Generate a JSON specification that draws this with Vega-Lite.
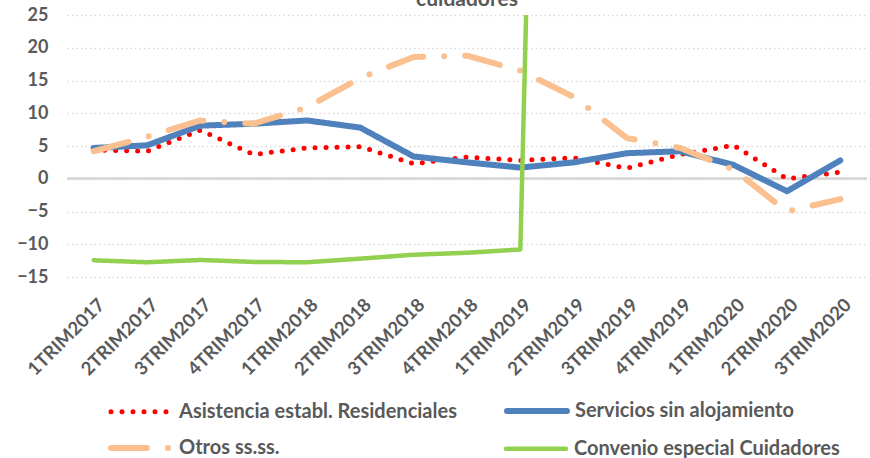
{
  "$schema": "https://vega.github.io/schema/vega-lite/v6.json",
  "autosize": "none",
  "width": 800,
  "height": 262,
  "padding": {"left": 67, "top": 15, "right": 3, "bottom": 181},
  "background": "white",
  "title": {"text": "cuidadores", "font": "Lato", "fontSize": 21, "fontWeight": "bold", "color": "#595959", "anchor": "middle", "offset": -4},
  "config": {
    "view": {"stroke": null},
    "axisX": {"title": null, "domain": false, "ticks": false, "grid": false, "labelAngle": -45, "labelAlign": "right", "labelBaseline": "top", "labelPadding": 18, "labelOffset": 1, "labelOverlap": false, "labelFont": "Lato", "labelFontSize": 18.5, "labelFontWeight": "bold", "labelColor": "#595959"},
    "axisY": {"title": null, "domain": false, "ticks": false, "labelOverlap": false, "grid": true, "gridDash": [1.5, 3], "gridColor": "#d9d9d9", "gridWidth": 1.5, "labelPadding": 19, "labelFont": "Lato", "labelFontSize": 18, "labelFontWeight": "bold", "labelColor": "#595959"},
    "legend": {"orient": "none", "direction": "horizontal", "columns": 2, "title": null, "symbolType": "stroke", "symbolSize": 3600, "labelFont": "Lato", "labelFontSize": 20, "labelFontWeight": "bold", "labelColor": "#595959", "labelOffset": 5, "padding": 0, "labelLimit": 400}
  },
  "data": {"values": [
    {"quarter": "1TRIM2017", "series": "Asistencia establ. Residenciales", "value": 4.4},
    {"quarter": "2TRIM2017", "series": "Asistencia establ. Residenciales", "value": 4.2},
    {"quarter": "3TRIM2017", "series": "Asistencia establ. Residenciales", "value": 7.4},
    {"quarter": "4TRIM2017", "series": "Asistencia establ. Residenciales", "value": 3.7},
    {"quarter": "1TRIM2018", "series": "Asistencia establ. Residenciales", "value": 4.7},
    {"quarter": "2TRIM2018", "series": "Asistencia establ. Residenciales", "value": 4.9},
    {"quarter": "3TRIM2018", "series": "Asistencia establ. Residenciales", "value": 2.3},
    {"quarter": "4TRIM2018", "series": "Asistencia establ. Residenciales", "value": 3.3},
    {"quarter": "1TRIM2019", "series": "Asistencia establ. Residenciales", "value": 2.8},
    {"quarter": "2TRIM2019", "series": "Asistencia establ. Residenciales", "value": 3.2},
    {"quarter": "3TRIM2019", "series": "Asistencia establ. Residenciales", "value": 1.6},
    {"quarter": "4TRIM2019", "series": "Asistencia establ. Residenciales", "value": 3.7},
    {"quarter": "1TRIM2020", "series": "Asistencia establ. Residenciales", "value": 5.1},
    {"quarter": "2TRIM2020", "series": "Asistencia establ. Residenciales", "value": 0.0},
    {"quarter": "3TRIM2020", "series": "Asistencia establ. Residenciales", "value": 1.0},
    {"quarter": "1TRIM2017", "series": "Servicios sin alojamiento", "value": 4.7},
    {"quarter": "2TRIM2017", "series": "Servicios sin alojamiento", "value": 5.1},
    {"quarter": "3TRIM2017", "series": "Servicios sin alojamiento", "value": 8.1},
    {"quarter": "4TRIM2017", "series": "Servicios sin alojamiento", "value": 8.4},
    {"quarter": "1TRIM2018", "series": "Servicios sin alojamiento", "value": 8.9},
    {"quarter": "2TRIM2018", "series": "Servicios sin alojamiento", "value": 7.8},
    {"quarter": "3TRIM2018", "series": "Servicios sin alojamiento", "value": 3.4},
    {"quarter": "4TRIM2018", "series": "Servicios sin alojamiento", "value": 2.5},
    {"quarter": "1TRIM2019", "series": "Servicios sin alojamiento", "value": 1.7},
    {"quarter": "2TRIM2019", "series": "Servicios sin alojamiento", "value": 2.5},
    {"quarter": "3TRIM2019", "series": "Servicios sin alojamiento", "value": 3.9},
    {"quarter": "4TRIM2019", "series": "Servicios sin alojamiento", "value": 4.2},
    {"quarter": "1TRIM2020", "series": "Servicios sin alojamiento", "value": 2.1},
    {"quarter": "2TRIM2020", "series": "Servicios sin alojamiento", "value": -1.9},
    {"quarter": "3TRIM2020", "series": "Servicios sin alojamiento", "value": 2.8},
    {"quarter": "1TRIM2017", "series": "Otros ss.ss.", "value": 4.2},
    {"quarter": "2TRIM2017", "series": "Otros ss.ss.", "value": 6.4},
    {"quarter": "3TRIM2017", "series": "Otros ss.ss.", "value": 8.9},
    {"quarter": "4TRIM2017", "series": "Otros ss.ss.", "value": 8.4},
    {"quarter": "1TRIM2018", "series": "Otros ss.ss.", "value": 10.9},
    {"quarter": "2TRIM2018", "series": "Otros ss.ss.", "value": 15.4},
    {"quarter": "3TRIM2018", "series": "Otros ss.ss.", "value": 18.6},
    {"quarter": "4TRIM2018", "series": "Otros ss.ss.", "value": 18.8},
    {"quarter": "1TRIM2019", "series": "Otros ss.ss.", "value": 16.5},
    {"quarter": "2TRIM2019", "series": "Otros ss.ss.", "value": 12.5},
    {"quarter": "3TRIM2019", "series": "Otros ss.ss.", "value": 6.2},
    {"quarter": "4TRIM2019", "series": "Otros ss.ss.", "value": 4.7},
    {"quarter": "1TRIM2020", "series": "Otros ss.ss.", "value": 1.4},
    {"quarter": "2TRIM2020", "series": "Otros ss.ss.", "value": -5.0},
    {"quarter": "3TRIM2020", "series": "Otros ss.ss.", "value": -3.1},
    {"quarter": "1TRIM2017", "series": "Convenio especial Cuidadores", "value": -12.45},
    {"quarter": "2TRIM2017", "series": "Convenio especial Cuidadores", "value": -12.75},
    {"quarter": "3TRIM2017", "series": "Convenio especial Cuidadores", "value": -12.4},
    {"quarter": "4TRIM2017", "series": "Convenio especial Cuidadores", "value": -12.7},
    {"quarter": "1TRIM2018", "series": "Convenio especial Cuidadores", "value": -12.75},
    {"quarter": "2TRIM2018", "series": "Convenio especial Cuidadores", "value": -12.2},
    {"quarter": "3TRIM2018", "series": "Convenio especial Cuidadores", "value": -11.6},
    {"quarter": "4TRIM2018", "series": "Convenio especial Cuidadores", "value": -11.3},
    {"quarter": "1TRIM2019", "series": "Convenio especial Cuidadores", "value": -10.8},
    {"quarter": "2TRIM2019", "series": "Convenio especial Cuidadores", "value": 320}
  ]},
  "resolve": {"scale": {"color": "independent", "strokeDash": "independent", "strokeWidth": "independent"}},
  "layer": [
    {
      "mark": {"type": "rule", "color": "#d9d9d9", "strokeWidth": 2},
      "encoding": {"y": {"datum": 0, "type": "quantitative", "scale": {"domain": [-15, 25], "nice": false}, "axis": {"values": [-15,-10,-5,0,5,10,15,20,25], "labelOverlap": false}}}
    },
    {
      "transform": [{"filter": {"field": "series", "oneOf": ["Asistencia establ. Residenciales", "Servicios sin alojamiento"]}}],
      "mark": {"type": "line", "clip": true, "strokeCap": "round", "strokeJoin": "round"},
      "encoding": {
        "x": {
          "field": "quarter", "type": "ordinal",
          "sort": ["1TRIM2017","2TRIM2017","3TRIM2017","4TRIM2017","1TRIM2018","2TRIM2018","3TRIM2018","4TRIM2018","1TRIM2019","2TRIM2019","3TRIM2019","4TRIM2019","1TRIM2020","2TRIM2020","3TRIM2020"],
          "scale": {"type": "point", "padding": 0.5},
          "axis": {"labelAngle": -45}
        },
        "y": {
          "field": "value", "type": "quantitative",
          "scale": {"domain": [-15, 25], "nice": false, "zero": false},
          "axis": {"values": [-15,-10,-5,0,5,10,15,20,25], "labelOverlap": false}
        },
        "color": {
          "field": "series", "type": "nominal",
          "scale": {"domain": ["Asistencia establ. Residenciales", "Servicios sin alojamiento"], "range": ["#ff0000", "#4f81bd"]},
          "legend": {"legendX": 41, "legendY": 363, "columnPadding": 38, "encode": {"symbols": {"update": {"strokeCap": {"value": "round"}}}}}
        },
        "strokeDash": {
          "field": "series", "type": "nominal",
          "scale": {"domain": ["Asistencia establ. Residenciales", "Servicios sin alojamiento"], "range": [[0, 11], [1, 0]]}
        },
        "strokeWidth": {
          "field": "series", "type": "nominal",
          "scale": {"domain": ["Asistencia establ. Residenciales", "Servicios sin alojamiento"], "range": [5, 6]}
        }
      }
    },
    {
      "transform": [{"filter": {"field": "series", "oneOf": ["Otros ss.ss.", "Convenio especial Cuidadores"]}}],
      "mark": {"type": "line", "clip": true, "strokeCap": "round", "strokeJoin": "round"},
      "encoding": {
        "x": {
          "field": "quarter", "type": "ordinal",
          "sort": ["1TRIM2017","2TRIM2017","3TRIM2017","4TRIM2017","1TRIM2018","2TRIM2018","3TRIM2018","4TRIM2018","1TRIM2019","2TRIM2019","3TRIM2019","4TRIM2019","1TRIM2020","2TRIM2020","3TRIM2020"],
          "scale": {"type": "point", "padding": 0.5},
          "axis": {"labelAngle": -45}
        },
        "y": {
          "field": "value", "type": "quantitative",
          "scale": {"domain": [-15, 25], "nice": false, "zero": false},
          "axis": {"values": [-15,-10,-5,0,5,10,15,20,25], "labelOverlap": false}
        },
        "color": {
          "field": "series", "type": "nominal",
          "scale": {"domain": ["Otros ss.ss.", "Convenio especial Cuidadores"], "range": ["#fac090", "#92d050"]},
          "legend": {"legendX": 41, "legendY": 400, "columnPadding": 217, "encode": {"symbols": {"update": {"strokeCap": {"value": "round"}}}}}
        },
        "strokeDash": {
          "field": "series", "type": "nominal",
          "scale": {"domain": ["Otros ss.ss.", "Convenio especial Cuidadores"], "range": [[36, 21, 0, 21], [1, 0]]}
        },
        "strokeWidth": {
          "field": "series", "type": "nominal",
          "scale": {"domain": ["Otros ss.ss.", "Convenio especial Cuidadores"], "range": [6, 4.5]}
        }
      }
    }
  ]
}
